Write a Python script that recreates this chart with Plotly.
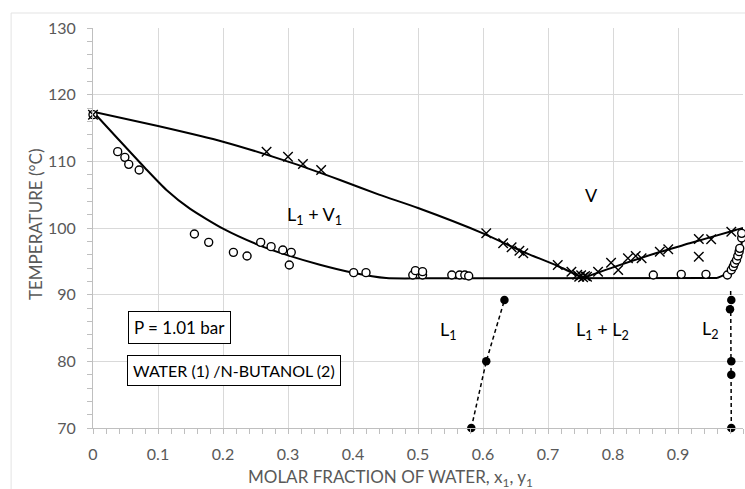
import plotly.graph_objects as go

# ---- data ----
# smoothed vapour (dew) curve, left and right branch of azeotrope
vap_left_x = [0, 0.1, 0.2, 0.3, 0.38, 0.44, 0.5, 0.6, 0.66, 0.715, 0.754]
vap_left_T = [117.45, 115.3, 112.95, 109.95, 107.2, 105.0, 103.0, 99.2, 96.5, 94.3, 92.5]
vap_right_x = [0.754, 0.8, 0.872, 0.918, 0.985, 1.0]
vap_right_T = [92.5, 94.1, 96.4, 97.7, 99.6, 100.0]

# smoothed liquid (bubble) curve
liq_left_x = [0, 0.04, 0.08, 0.113, 0.149, 0.2, 0.256, 0.3, 0.349, 0.4, 0.451, 0.5]
liq_left_T = [117.45, 113.2, 109.0, 105.7, 102.9, 99.9, 97.4, 95.9, 94.5, 93.3, 92.5, 92.45]
liq_flat_x = [0.5, 0.96]
liq_flat_T = [92.45, 92.5]
liq_right_x = [0.96, 0.972, 0.982, 0.988, 0.993, 0.997, 1.0]
liq_right_T = [92.5, 93.0, 93.6, 94.5, 95.5, 97.0, 100.0]

# experimental vapour points (x markers)
vx = [0, 0.267, 0.3, 0.323, 0.351, 0.605, 0.631, 0.644, 0.656, 0.662, 0.715, 0.736,
      0.745, 0.748, 0.751, 0.754, 0.757, 0.76, 0.777, 0.797, 0.808, 0.823, 0.835,
      0.844, 0.872, 0.885, 0.932, 0.932, 0.951, 0.982]
vT = [117.0, 111.45, 110.7, 109.6, 108.7, 99.2, 97.7, 97.1, 96.6, 96.2, 94.45, 93.45,
      93.0, 92.7, 92.9, 92.6, 92.8, 92.7, 93.45, 94.8, 93.7, 95.45, 95.8,
      95.45, 96.45, 96.8, 98.35, 95.7, 98.3, 99.45]

# experimental liquid points (open circles)
lx = [0, 0.038, 0.049, 0.055, 0.071, 0.156, 0.178, 0.216, 0.237, 0.258, 0.274, 0.292,
      0.305, 0.302, 0.401, 0.42, 0.492, 0.496, 0.507, 0.507, 0.552, 0.564, 0.572, 0.578,
      0.862, 0.905, 0.943, 0.976, 0.982, 0.985, 0.987, 0.99, 0.992, 0.994, 0.995, 0.998, 0.998]
lT = [117.0, 111.45, 110.6, 109.55, 108.7, 99.1, 97.85, 96.35, 95.8, 97.85, 97.2, 96.7,
      96.35, 94.45, 93.3, 93.3, 92.95, 93.6, 92.95, 93.45, 92.95, 92.95, 92.95, 92.8,
      92.95, 93.05, 93.05, 92.95, 93.7, 94.2, 94.7, 95.2, 95.8, 96.45, 96.95, 98.5, 99.2]

# liquid-liquid equilibrium (filled dots)
lle1_x = [0.582, 0.605, 0.633]
lle1_T = [70, 80, 89.2]
lle2_x = [0.982, 0.982, 0.982, 0.98, 0.982]
lle2_T = [70, 78, 80, 87.8, 89.2]
lle2_line_x = [0.982, 0.981]
lle2_line_T = [70, 90.8]

x_ticks = [0, 0.1, 0.2, 0.3, 0.4, 0.5, 0.6, 0.7, 0.8, 0.9, 1]
x_ticklabels = ["0", "0.1", "0.2", "0.3", "0.4", "0.5", "0.6", "0.7", "0.8", "0.9", "1"]
y_ticks = [70, 80, 90, 100, 110, 120, 130]

# region labels: (text, x, T)
region_labels = [
    ("L<sub>1</sub> + V<sub>1</sub>", 0.34, 101.9),
    ("V", 0.767, 104.95),
    ("L<sub>1</sub>", 0.547, 84.6),
    ("L<sub>1</sub> + L<sub>2</sub>", 0.7835, 84.6),
    ("L<sub>2</sub>", 0.95, 84.75),
]
box_labels = [
    ("P = 1.01 bar", 0.054, 85.08, 17),
    ("WATER (1) /N-BUTANOL (2)", 0.052, 78.7, 16),
]

FONT = "Lato, Carlito, Calibri, sans-serif"
GRAY = "#595959"

fig = go.Figure()

line_style = dict(color="black", width=2)
for xs, ts in [(vap_left_x, vap_left_T), (vap_right_x, vap_right_T),
               (liq_left_x, liq_left_T), (liq_flat_x, liq_flat_T), (liq_right_x, liq_right_T)]:
    fig.add_trace(go.Scatter(x=xs, y=ts, mode="lines", line=dict(shape="spline", smoothing=0.6, **line_style),
                             showlegend=False, hoverinfo="skip", cliponaxis=False))

# dashed LLE lines
fig.add_trace(go.Scatter(x=lle1_x, y=lle1_T, mode="lines",
                         line=dict(color="black", width=1.5, dash="4px,3px"), showlegend=False, cliponaxis=False))
fig.add_trace(go.Scatter(x=lle2_line_x, y=lle2_line_T, mode="lines",
                         line=dict(color="black", width=1.5, dash="4px,3px"), showlegend=False, cliponaxis=False))

fig.add_trace(go.Scatter(x=lx, y=lT, mode="markers",
                         marker=dict(symbol="circle", size=8, color="white", line=dict(color="black", width=1.4)),
                         showlegend=False, cliponaxis=False))
fig.add_trace(go.Scatter(x=vx, y=vT, mode="markers",
                         marker=dict(symbol="x-thin", size=9.5, color="black", line=dict(color="black", width=1.4)),
                         showlegend=False, cliponaxis=False))
fig.add_trace(go.Scatter(x=lle1_x + lle2_x, y=lle1_T + lle2_T, mode="markers",
                         marker=dict(symbol="circle", size=8.5, color="black", line=dict(width=0)),
                         showlegend=False, cliponaxis=False))

for txt, xx, tt in region_labels:
    fig.add_annotation(x=xx, y=tt, xref="x", yref="y", text=txt, showarrow=False,
                       xanchor="center", yanchor="middle",
                       font=dict(family=FONT, size=18, color="black"))
for txt, xx, tt, fs in box_labels:
    fig.add_annotation(x=xx, y=tt, xref="x", yref="y", text=txt, showarrow=False,
                       xanchor="left", yanchor="middle",
                       font=dict(family=FONT, size=fs, color="black"),
                       bordercolor="black", borderwidth=1, borderpad=5, bgcolor="white")

# axis titles
fig.add_annotation(x=0.457, y=-0.125, xref="paper", yref="paper",
                   xanchor="center", yanchor="middle",
                   text="MOLAR FRACTION OF WATER, x<sub>1</sub>, y<sub>1</sub>",
                   showarrow=False, font=dict(family=FONT, size=17, color=GRAY))
fig.add_annotation(x=-0.0892, y=0.5075, xref="paper", yref="paper", text="TEMPERATURE (°C)",
                   xanchor="center", yanchor="middle",
                   textangle=-90, showarrow=False, font=dict(family=FONT, size=17, color=GRAY))

# outer chart frame (light)
fig.add_shape(type="line", xref="paper", yref="paper", x0=-0.126, x1=-0.126, y0=-0.3, y1=1.0375,
              line=dict(color="#e3e3e3", width=1))
fig.add_shape(type="line", xref="paper", yref="paper", x0=-0.126, x1=1.2, y0=1.0375, y1=1.0375,
              line=dict(color="#e3e3e3", width=1))

fig.update_xaxes(range=[0, 1], tickvals=x_ticks, ticktext=x_ticklabels,
                 showgrid=True, gridcolor="#d9d9d9", gridwidth=1,
                 showline=True, linecolor="#bfbfbf", linewidth=1,
                 ticks="outside", ticklen=5, tickcolor="#bfbfbf",
                 minor=dict(dtick=0.02, ticks="outside", ticklen=5, tickcolor="#bfbfbf", showgrid=False),
                 tickfont=dict(family=FONT, size=16, color=GRAY), zeroline=False,
                 ticklabelstandoff=7)
fig.update_yaxes(range=[70, 130], tickvals=y_ticks,
                 showgrid=True, gridcolor="#d9d9d9", gridwidth=1,
                 showline=True, linecolor="#bfbfbf", linewidth=1,
                 ticks="outside", ticklen=5, tickcolor="#bfbfbf",
                 minor=dict(dtick=2, ticks="outside", ticklen=5, tickcolor="#bfbfbf", showgrid=False),
                 tickfont=dict(family=FONT, size=16, color=GRAY), zeroline=False,
                 ticklabelstandoff=8)

fig.update_layout(width=745, height=489, margin=dict(l=93, r=2, t=28, b=61),
                  plot_bgcolor="white", paper_bgcolor="white", showlegend=False,
                  font=dict(family=FONT))

fig.write_html("out.html")
